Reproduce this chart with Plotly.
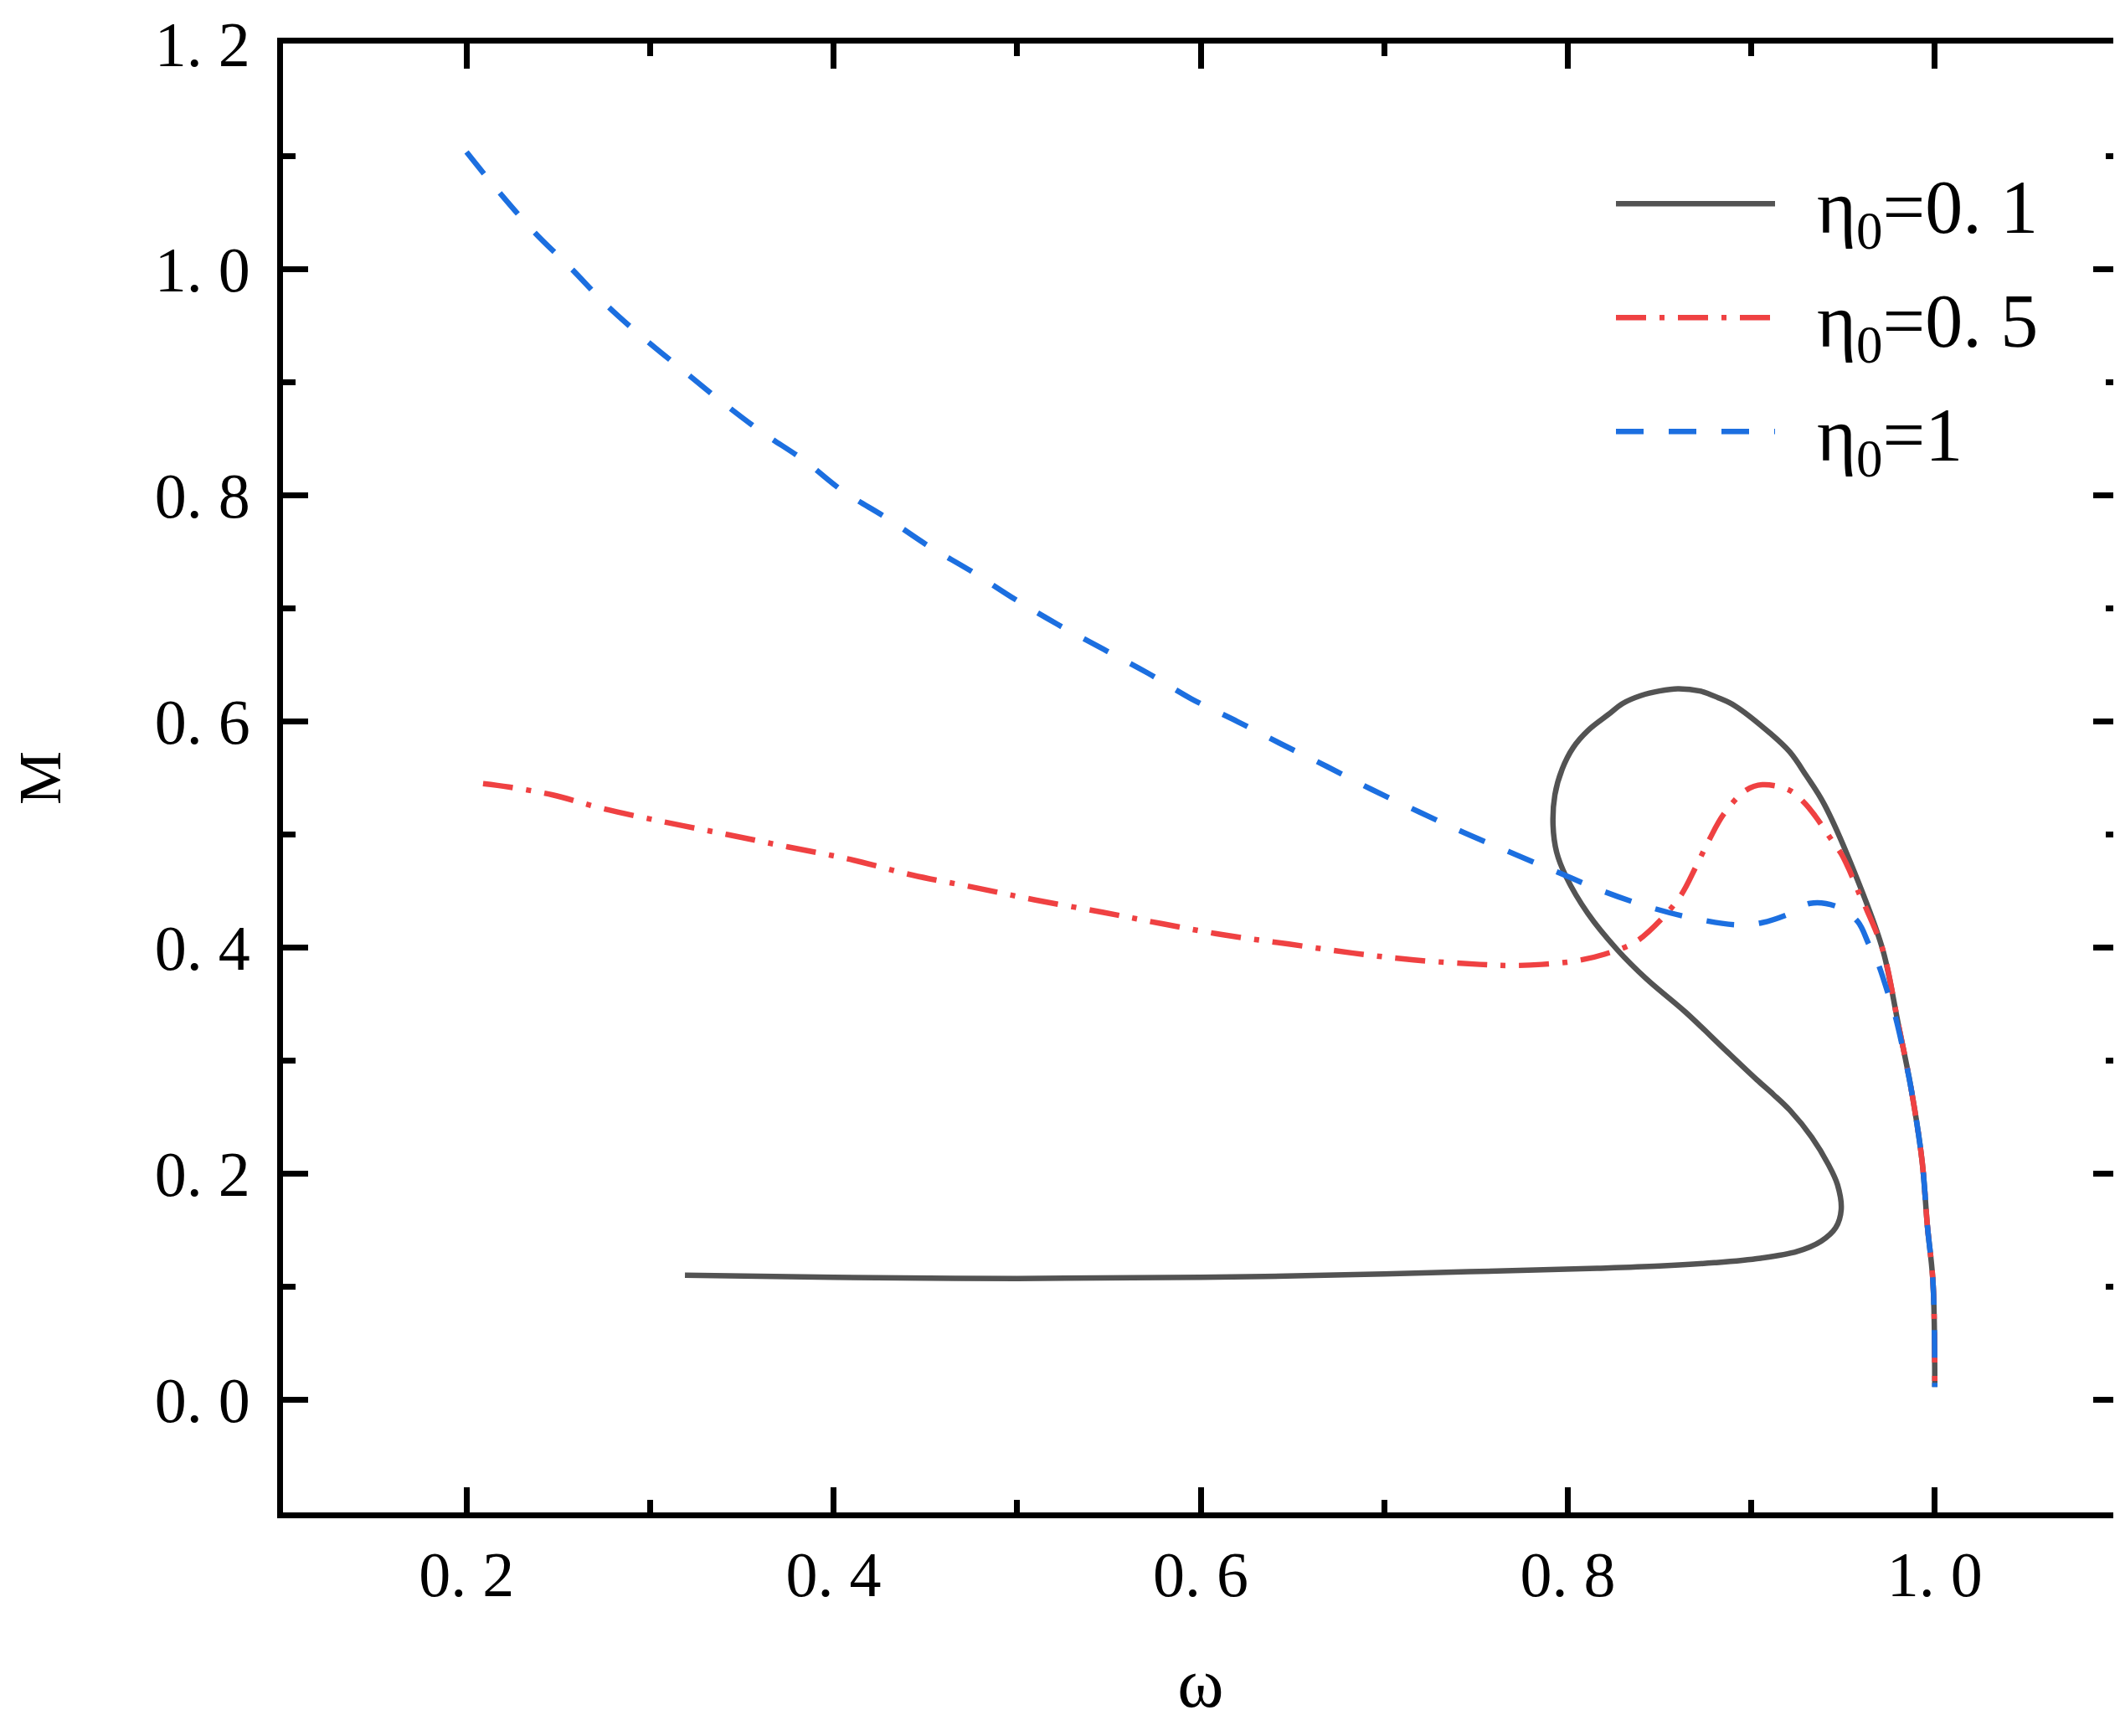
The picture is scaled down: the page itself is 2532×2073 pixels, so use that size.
import plotly.graph_objects as go

# ==================== data ====================

# eta0 = 0.1 : solid dark grey, parametric curve with a loop
omega_01 = [0.319, 0.40, 0.50, 0.60, 0.70, 0.746, 0.816, 0.850, 0.880, 0.905,
            0.925, 0.938, 0.946, 0.949, 0.947, 0.942, 0.933, 0.921, 0.912, 0.903,
            0.886, 0.864, 0.843, 0.827, 0.811, 0.799, 0.794, 0.792, 0.793, 0.797,
            0.803, 0.811, 0.822, 0.830, 0.840, 0.850, 0.860, 0.872, 0.882, 0.891,
            0.910, 0.921, 0.930, 0.940, 0.961, 0.972, 0.980, 0.987, 0.993, 0.996,
            0.999, 1.000]
mass_01 = [0.110, 0.108, 0.107, 0.108, 0.111, 0.113, 0.116, 0.118, 0.121, 0.125,
           0.131, 0.140, 0.152, 0.168, 0.190, 0.208, 0.232, 0.256, 0.270, 0.283,
           0.309, 0.343, 0.372, 0.398, 0.430, 0.463, 0.484, 0.508, 0.535, 0.558,
           0.577, 0.592, 0.606, 0.616, 0.623, 0.627, 0.629, 0.627, 0.621, 0.614,
           0.590, 0.573, 0.552, 0.526, 0.447, 0.396, 0.333, 0.276, 0.212, 0.153,
           0.104, 0.011]

# eta0 = 0.5 : red dash-dot
omega_05 = [0.209, 0.223, 0.247, 0.274, 0.308, 0.342, 0.375, 0.409, 0.443, 0.477,
            0.510, 0.547, 0.579, 0.613, 0.648, 0.683, 0.716, 0.752, 0.769, 0.786,
            0.804, 0.820, 0.837, 0.851, 0.862, 0.870, 0.877, 0.885, 0.897, 0.906,
            0.921, 0.929, 0.935, 0.943, 0.949, 0.953, 0.959, 0.963, 0.972, 0.980,
            0.987, 0.993, 0.996, 0.999, 1.000]
mass_05 = [0.545, 0.542, 0.535, 0.523, 0.511, 0.500, 0.489, 0.478, 0.464, 0.453,
           0.442, 0.431, 0.421, 0.411, 0.403, 0.395, 0.389, 0.385, 0.384, 0.385,
           0.388, 0.394, 0.405, 0.425, 0.447, 0.472, 0.495, 0.518, 0.539, 0.544,
           0.539, 0.528, 0.516, 0.497, 0.483, 0.470, 0.447, 0.433, 0.396, 0.333,
           0.276, 0.212, 0.153, 0.104, 0.011]

# eta0 = 1 : blue dashed
omega_1 = [0.200, 0.218, 0.237, 0.257, 0.276, 0.296, 0.317, 0.339, 0.361, 0.384,
           0.405, 0.429, 0.452, 0.475, 0.499, 0.522, 0.547, 0.571, 0.595, 0.620,
           0.644, 0.669, 0.693, 0.719, 0.743, 0.769, 0.794, 0.819, 0.846, 0.871,
           0.893, 0.906, 0.921, 0.932, 0.947, 0.958, 0.964, 0.969, 0.974, 0.978,
           0.984, 0.987, 0.993, 0.996, 0.999, 1.000]
mass_1 = [1.104, 1.068, 1.033, 1.001, 0.969, 0.940, 0.912, 0.883, 0.856, 0.831,
          0.804, 0.780, 0.755, 0.733, 0.708, 0.686, 0.664, 0.643, 0.620, 0.600,
          0.580, 0.560, 0.540, 0.520, 0.502, 0.484, 0.467, 0.450, 0.435, 0.425,
          0.420, 0.422, 0.430, 0.439, 0.436, 0.423, 0.403, 0.386, 0.362, 0.342,
          0.300, 0.276, 0.212, 0.153, 0.104, 0.011]

SERIES_NAMES = ["η<sub>0</sub>=0. 1", "η<sub>0</sub>=0. 5", "η<sub>0</sub>=1"]

X_TICKS = [0.2, 0.4, 0.6, 0.8, 1.0]
X_TICK_LABELS = ["0. 2", "0. 4", "0. 6", "0. 8", "1. 0"]
Y_TICKS = [0.0, 0.2, 0.4, 0.6, 0.8, 1.0, 1.2]
Y_TICK_LABELS = ["0. 0", "0. 2", "0. 4", "0. 6", "0. 8", "1. 0", "1. 2"]

# ==================== style ====================

COLOR_GREY = "#535353"
COLOR_RED = "#EF4142"
COLOR_BLUE = "#1C6FE0"
FONT = "Liberation Serif"
LINE_W = 6.5
GAP = "\u00a0\u00a0"  # room between legend line and text

fig = go.Figure()

fig.add_trace(go.Scatter(
    x=omega_01, y=mass_01, mode="lines", name=GAP + SERIES_NAMES[0],
    legendgroup="a",
    line=dict(color=COLOR_GREY, width=LINE_W, shape="spline", smoothing=1.0),
))
fig.add_trace(go.Scatter(
    x=omega_05, y=mass_05, mode="lines", name=GAP + SERIES_NAMES[1],
    legendgroup="b",
    line=dict(color=COLOR_RED, width=LINE_W, shape="spline", smoothing=1.0,
              dash="36px,16px,6px,16px"),
))
fig.add_trace(go.Scatter(
    x=omega_1, y=mass_1, mode="lines", name=GAP + SERIES_NAMES[2],
    legendgroup="c",
    line=dict(color=COLOR_BLUE, width=LINE_W, shape="spline", smoothing=1.0,
              dash="33px,30px"),
))

axis_common = dict(
    showline=True, linecolor="black", linewidth=7, mirror="ticks",
    ticks="inside", ticklen=30, tickwidth=7, tickcolor="black",
    showgrid=False, zeroline=False, ticklabeloverflow="allow",
    tickfont=dict(family=FONT, size=76, color="black"),
)

fig.update_xaxes(
    range=[0.1, 1.1], tickvals=X_TICKS, ticktext=X_TICK_LABELS,
    ticklabelstandoff=2,
    minor=dict(ticks="inside", ticklen=15, tickwidth=7, tickcolor="black",
               tickvals=[0.3, 0.5, 0.7, 0.9], showgrid=False),
    title=dict(text="ω", font=dict(family=FONT, size=84, color="black"), standoff=60),
    **axis_common,
)
fig.update_yaxes(
    range=[-0.1, 1.2], tickvals=Y_TICKS, ticktext=Y_TICK_LABELS,
    ticklabelstandoff=17,
    minor=dict(ticks="inside", ticklen=15, tickwidth=7, tickcolor="black",
               tickvals=[-0.1, 0.1, 0.3, 0.5, 0.7, 0.9, 1.1], showgrid=False),
    title=dict(text="M", font=dict(family=FONT, size=72, color="black"), standoff=100),
    **axis_common,
)

fig.update_layout(
    width=2532, height=2073,
    margin=dict(l=330, r=3, t=36, b=275),
    plot_bgcolor="white", paper_bgcolor="white",
    showlegend=True,
    legend=dict(
        x=0.724, y=0.928, xanchor="left", yanchor="top",
        font=dict(family=FONT, size=90, color="black"),
        itemwidth=190, bgcolor="rgba(0,0,0,0)", borderwidth=0,
        traceorder="grouped", tracegroupgap=16,
    ),
)

fig.write_html("out.html")
